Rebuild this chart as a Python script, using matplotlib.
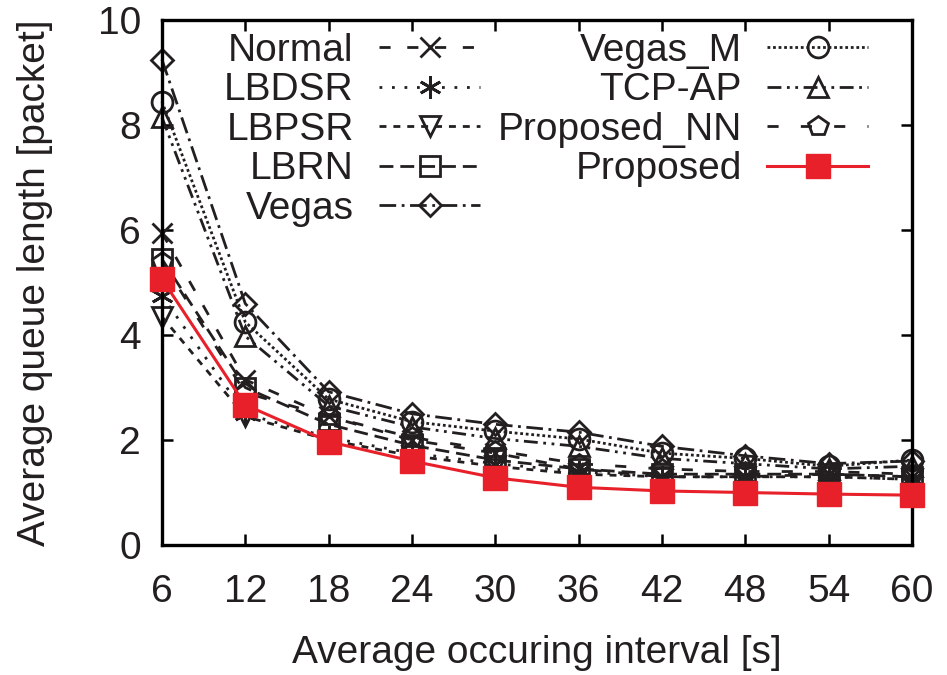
import matplotlib
matplotlib.use("Agg")
import matplotlib.pyplot as plt

plt.rcParams['font.family'] = ['Liberation Sans', 'DejaVu Sans']

intervals = [6, 12, 18, 24, 30, 36, 42, 48, 54, 60]

normal      = [5.95, 3.15, 2.45, 2.00, 1.75, 1.45, 1.30, 1.30, 1.35, 1.30]
lbdsr       = [4.75, 2.50, 2.05, 1.75, 1.55, 1.40, 1.30, 1.30, 1.30, 1.25]
lbpsr       = [4.35, 2.45, 2.00, 1.70, 1.50, 1.35, 1.30, 1.30, 1.30, 1.25]
lbrn        = [5.45, 3.00, 2.30, 1.90, 1.62, 1.45, 1.35, 1.35, 1.35, 1.30]
vegas       = [9.25, 4.60, 2.92, 2.50, 2.30, 2.15, 1.88, 1.70, 1.55, 1.60]
vegas_m     = [8.45, 4.25, 2.78, 2.35, 2.17, 2.02, 1.75, 1.65, 1.50, 1.62]
tcp_ap      = [8.15, 3.98, 2.65, 2.25, 2.03, 1.88, 1.65, 1.55, 1.45, 1.50]
proposed_nn = [5.40, 2.90, 2.45, 2.05, 1.80, 1.55, 1.45, 1.40, 1.40, 1.35]
proposed    = [5.07, 2.67, 1.97, 1.60, 1.28, 1.10, 1.03, 1.00, 0.97, 0.95]

labels = ["Normal", "LBDSR", "LBPSR", "LBRN", "Vegas",
          "Vegas_M", "TCP-AP", "Proposed_NN", "Proposed"]
series = [normal, lbdsr, lbpsr, lbrn, vegas, vegas_m, tcp_ap, proposed_nn, proposed]

ink = "#231f20"
red = "#e8202a"
FS = 28
styles = [
    dict(marker="x", ms=14, dashes=(4, 6)),
    dict(marker=(6, 2, 0), ms=16, dashes=(1, 3.5)),
    dict(marker="v", ms=15, dashes=(2.5, 2.5)),
    dict(marker="s", ms=14, dashes=(5, 2.5)),
    dict(marker="D", ms=11, dashes=(6, 2, 1, 2)),
    dict(marker="o", ms=15, dashes=(1, 1)),
    dict(marker="^", ms=15, dashes=(5, 2, 1, 2, 1, 2)),
    dict(marker="p", ms=15, dashes=(4, 8)),
]

fig = plt.figure(figsize=(9.47, 6.75), dpi=100)
ax = fig.add_axes([0.171, 0.1926, 0.792, 0.7774])

for lab, vals, st in zip(labels[:-1], series[:-1], styles):
    ax.plot(intervals, vals, color=ink, lw=2.0, dashes=st["dashes"],
            marker=st["marker"], ms=st["ms"], mfc="none", mec=ink, mew=2.0,
            clip_on=False, label=lab)

ax.plot(intervals, proposed, color=red, lw=2.2, marker="s", ms=17,
        mfc=red, mec=red, clip_on=False, label="Proposed", zorder=5)

ax.set_xlim(6, 60)
ax.set_ylim(0, 10)
ax.set_xticks(intervals)
ax.set_yticks([0, 2, 4, 6, 8, 10])

for sp in ax.spines.values():
    sp.set_linewidth(2.4)
    sp.set_color("black")
ax.tick_params(direction="in", length=8, width=1.8, top=True, right=True,
               labelsize=FS, colors="black", labelcolor=ink)
ax.tick_params(axis="x", pad=21)
ax.tick_params(axis="y", pad=15)

ax.set_xlabel("Average occuring interval [s]", fontsize=FS, color=ink, labelpad=18)
ax.set_ylabel("Average queue length [packet]", fontsize=FS, color=ink, labelpad=32)

leg = ax.legend(ncol=2, markerfirst=False, frameon=False, fontsize=FS,
                handlelength=2.6, handletextpad=0.65, columnspacing=0.45,
                labelspacing=0.09, loc="upper right",
                bbox_to_anchor=(0.978, 1.028), borderpad=0.2)
for t in leg.get_texts():
    t.set_color(ink)

fig.savefig("out.png", dpi=100)
